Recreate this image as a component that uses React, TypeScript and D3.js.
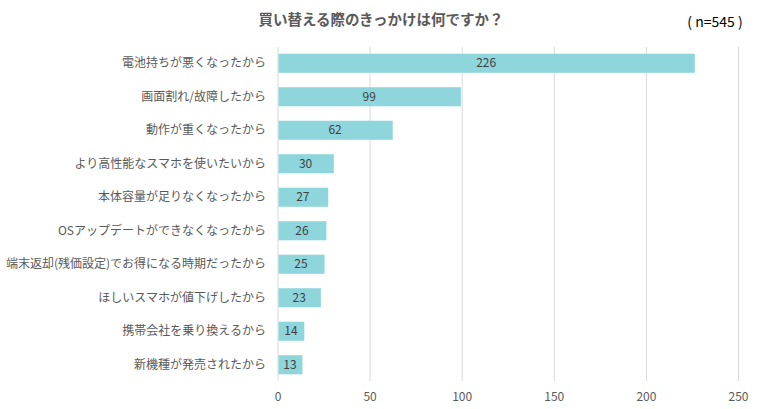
import React from "react";
import * as d3 from "d3";

const categories = [
  "電池持ちが悪くなったから",
  "画面割れ/故障したから",
  "動作が重くなったから",
  "より高性能なスマホを使いたいから",
  "本体容量が足りなくなったから",
  "OSアップデートができなくなったから",
  "端末返却(残価設定)でお得になる時期だったから",
  "ほしいスマホが値下げしたから",
  "携帯会社を乗り換えるから",
  "新機種が発売されたから",
];
const values = [226, 99, 62, 30, 27, 26, 25, 23, 14, 13];
const xTicks = [0, 50, 100, 150, 200, 250];
const title = "買い替える際のきっかけは何ですか？";
const sampleNote = "( n=545 )";

const W = 759;
const H = 409;
const margin = { top: 47, right: 20, bottom: 28, left: 278 };
const font = "'Noto Sans CJK JP', 'Noto Sans', sans-serif";

const App: React.FC = () => {
  const x = d3.scaleLinear().domain([0, 250]).range([margin.left, 738.5]);
  const y = d3
    .scaleBand<string>()
    .domain(categories)
    .range([margin.top, H - margin.bottom])
    .paddingInner(0.43)
    .paddingOuter(0.2);

  return (
    <svg
      width={W}
      height={H}
      style={{ position: "absolute", left: 0, top: 0, background: "#fff" }}
      fontFamily={font}
    >
      <text x={381} y={25} textAnchor="middle" fontSize={14.5} fontWeight="bold" fill="#595959">
        {title}
      </text>
      <text x={715} y={27} textAnchor="middle" fontSize={14} fill="#000">
        {sampleNote}
      </text>

      {/* grid */}
      {xTicks.map((t) => (
        <g key={t}>
          <line
            x1={x(t)}
            x2={x(t)}
            y1={margin.top}
            y2={H - margin.bottom}
            stroke="#d9d9d9"
            strokeWidth={1}
          />
          <text x={x(t)} y={401} textAnchor="middle" fontSize={12} fill="#595959">
            {t}
          </text>
        </g>
      ))}

      {/* bars */}
      {categories.map((c, i) => {
        const by = y(c)!;
        const bh = y.bandwidth();
        return (
          <g key={c}>
            <rect x={x(0) + 0.5} y={by} width={x(values[i]) - x(0)} height={bh} fill="#8fd6dc" />
            <text
              x={(x(0) + x(values[i])) / 2}
              y={by + bh / 2}
              dy="0.35em"
              textAnchor="middle"
              fontSize={12}
              fill="#404040"
            >
              {values[i]}
            </text>
            <text
              x={266}
              y={by + bh / 2}
              dy="0.35em"
              textAnchor="end"
              fontSize={12}
              fill="#595959"
            >
              {c}
            </text>
          </g>
        );
      })}
    </svg>
  );
};

export default App;
